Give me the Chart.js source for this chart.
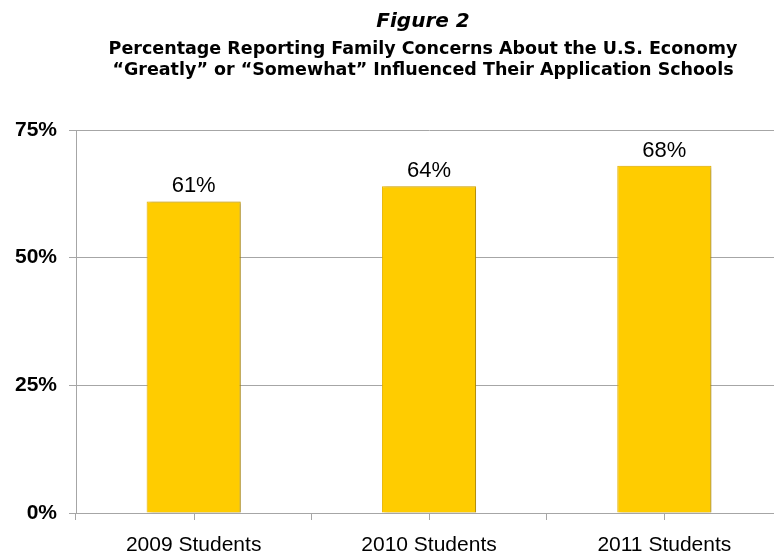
<!DOCTYPE html>
<html>
<head>
<meta charset="utf-8">
<script src="https://cdn.jsdelivr.net/npm/chart.js@4.4.1/dist/chart.umd.min.js"></script>
<style>
  html, body { margin: 0; padding: 0; background: #fff; overflow: hidden; }
  #wrap { position: relative; width: 774px; height: 554px; overflow: hidden; }
  #chart-box { position: absolute; left: 0; top: 0; width: 782px; height: 554px; }
  .title { position: absolute; left: 423px; transform: translateX(-50%); white-space: nowrap;
           font-family: "DejaVu Sans", sans-serif; font-weight: bold; color: #000; line-height: 1; }
  #t1 { top: 10px; font-size: 20px; font-style: italic; }
  #t2 { top: 40px; font-size: 17.5px; }
  #t3 { top: 61px; font-size: 17.5px; }
</style>
</head>
<body>
<div id="wrap">
  <div id="chart-box"><canvas id="chart"></canvas></div>
  <div class="title" id="t1">Figure 2</div>
  <div class="title" id="t2">Percentage Reporting Family Concerns About the U.S. Economy</div>
  <div class="title" id="t3">“Greatly” or “Somewhat” Influenced Their Application Schools</div>
</div>
<script>
// Chart data
const categories = ['2009 Students', '2010 Students', '2011 Students'];
const percentages = [61, 64, 68];
const yTicks = [0, 25, 50, 75];

const gridColor = '#a6a6a6';

// Value labels above each bar
const valueLabels = {
    id: 'valueLabels',
    afterDatasetsDraw(chart) {
        const ctx = chart.ctx;
        const meta = chart.getDatasetMeta(0);
        ctx.save();
        ctx.font = '22px "Liberation Sans", Arial, sans-serif';
        ctx.fillStyle = '#000';
        ctx.textAlign = 'center';
        ctx.textBaseline = 'alphabetic';
        meta.data.forEach((bar, i) => {
            ctx.fillText(percentages[i] + '%', bar.x, bar.y - 9);
        });
        ctx.restore();
    }
};

// Extra tick marks at category centres (Excel style)
const centreTicks = {
    id: 'centreTicks',
    afterDraw(chart) {
        const x = chart.scales.x;
        const ctx = chart.ctx;
        ctx.save();
        ctx.strokeStyle = gridColor;
        ctx.lineWidth = 1;
        ctx.beginPath();
        categories.forEach((c, i) => {
            const px = Math.round(x.getPixelForValue(i)) + 0.5;
            ctx.moveTo(px, x.top);
            ctx.lineTo(px, x.top + 7);
        });
        ctx.stroke();
        ctx.restore();
    }
};

// Soft shadow behind bars
const barShadow = {
    id: 'barShadow',
    beforeDatasetDraw(chart) {
        const ctx = chart.ctx;
        ctx.save();
        ctx.shadowColor = 'rgba(0,0,0,0.35)';
        ctx.shadowBlur = 3;
        ctx.shadowOffsetX = 2;
        ctx.shadowOffsetY = 1;
    },
    afterDatasetDraw(chart) {
        chart.ctx.restore();
    }
};

// Lighter bevel at the top of each bar
function barFill(context) {
    const chart = context.chart;
    const el = context.element;
    if (!chart.chartArea || !el || !Number.isFinite(el.y)) return '#ffcc00';
    const top = el.y;
    const g = chart.ctx.createLinearGradient(0, top, 0, top + 8);
    g.addColorStop(0, '#ffe45c');
    g.addColorStop(0.5, '#ffd200');
    g.addColorStop(1, '#ffcc00');
    return g;
}

function initChart() {
    const ctx = document.getElementById('chart');
    new Chart(ctx, {
        type: 'bar',
        data: {
            labels: categories,
            datasets: [{
                data: percentages,
                backgroundColor: barFill,
                borderColor: '#e8b400',
                borderWidth: 1,
                barPercentage: 0.4,
                categoryPercentage: 1.0
            }]
        },
        options: {
            responsive: true,
            maintainAspectRatio: false,
            animation: false,
            layout: { padding: { top: 130, right: 0, left: 0, bottom: 0 } },
            plugins: {
                legend: { display: false },
                tooltip: { enabled: false }
            },
            scales: {
                x: {
                    grid: { display: true, drawOnChartArea: false, color: gridColor, tickLength: 7, offset: true },
                    border: { color: gridColor },
                    ticks: {
                        color: '#000',
                        padding: 13,
                        font: { family: '"Liberation Sans", Arial, sans-serif', size: 21 }
                    },
                    afterFit(scale) { scale.height = 41; }
                },
                y: {
                    min: 0,
                    max: 75,
                    afterBuildTicks(scale) { scale.ticks = yTicks.map(v => ({ value: v })); },
                    grid: { color: gridColor, tickLength: 7 },
                    border: { color: gridColor },
                    ticks: {
                        color: '#000',
                        padding: 12,
                        font: { family: '"Liberation Sans", Arial, sans-serif', size: 21, weight: 'bold' },
                        callback: v => v + '%'
                    },
                    afterFit(scale) { scale.width = 76; }
                }
            }
        },
        plugins: [valueLabels, centreTicks, barShadow]
    });
}

document.addEventListener('DOMContentLoaded', initChart);
</script>
</body>
</html>
